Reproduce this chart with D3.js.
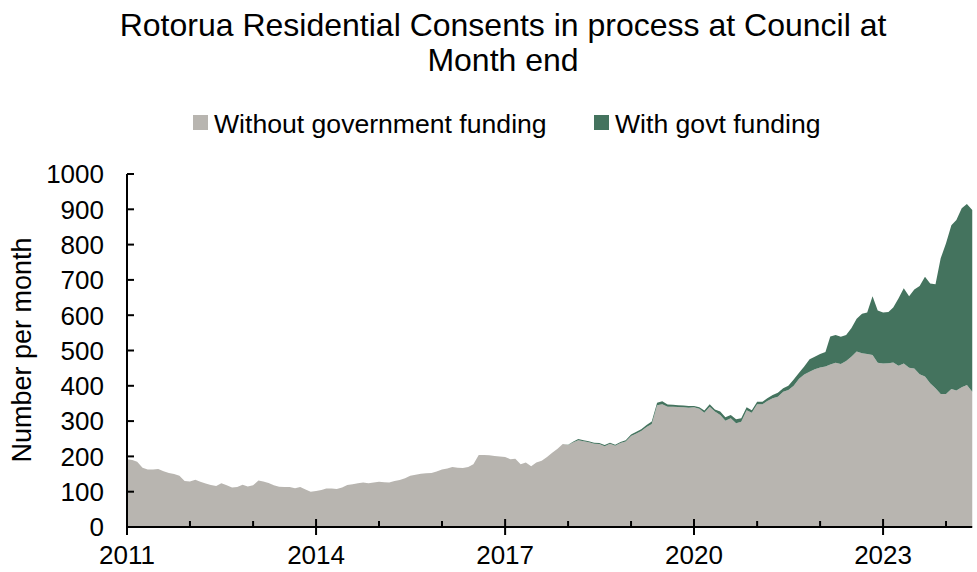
<!DOCTYPE html>
<html>
<head>
<meta charset="utf-8">
<script src="https://cdn.jsdelivr.net/npm/d3@7"></script>
<style>
  html, body { margin: 0; padding: 0; background: #ffffff; }
  svg { display: block; font-family: "Liberation Sans", Arial, sans-serif; }
</style>
</head>
<body>
<svg id="chart" width="977" height="572"></svg>
<script>
// Monthly consents in process, Jan 2011 – Jun 2024
const startMonth = new Date(2011, 0, 1);
const endMonth = new Date(2024, 5, 1);
const months = d3.timeMonth.range(startMonth, d3.timeMonth.offset(endMonth, 1));

const seriesNames = ["Without government funding", "With govt funding"];

const withoutFunding = [
  192,190,185,168,163,163,164,158,153,150,145,130,   // 2011
  129,134,128,123,119,116,124,118,112,113,120,115,   // 2012
  118,132,129,125,118,114,113,113,110,113,106,100,   // 2013
  102,105,109,109,108,112,119,121,124,126,124,126,   // 2014
  128,127,126,130,133,138,145,148,151,152,153,157,   // 2015
  163,166,170,168,167,170,178,204,204,203,201,200,   // 2016
  198,192,193,178,183,172,183,188,198,210,222,235,   // 2017
  232,240,246,243,240,236,235,229,236,230,238,242,   // 2018
  258,265,272,283,292,345,348,341,341,340,339,338,   // 2019
  339,335,324,341,327,317,301,308,294,298,331,324,   // 2020
  348,348,357,365,369,383,388,400,420,432,440,447,   // 2021
  452,455,460,465,462,470,482,497,492,490,487,465,   // 2022
  463,464,466,457,463,451,449,433,426,407,393,377,   // 2023
  377,391,387,396,402,383                            // 2024
];

const withFunding = [
  0,0,0,0,0,0,0,0,0,0,0,0,                           // 2011
  0,0,0,0,0,0,0,0,0,0,0,0,                           // 2012
  0,0,0,0,0,0,0,0,0,0,0,0,                           // 2013
  0,0,0,0,0,0,0,0,0,0,0,0,                           // 2014
  0,0,0,0,0,0,0,0,0,0,0,0,                           // 2015
  0,0,0,0,0,0,0,0,0,0,0,0,                           // 2016
  0,0,0,0,0,0,0,0,0,0,0,0,                           // 2017
  1,2,3,3,3,3,3,3,3,3,3,4,                           // 2018
  4,5,5,6,7,7,8,6,5,5,5,5,                           // 2019
  4,4,6,7,6,10,10,9,11,10,8,7,                       // 2020
  7,7,8,9,11,10,12,18,17,23,35,35,                   // 2021
  38,41,80,79,77,74,81,93,112,118,167,148,           // 2022
  145,145,156,191,213,203,224,250,283,283,295,384,   // 2023
  427,464,483,507,513,515                            // 2024
];

const xTickYears = [2011, 2014, 2017, 2020, 2023];
const yTicks = [0, 100, 200, 300, 400, 500, 600, 700, 800, 900, 1000];

const colors = { without: "#b8b5b0", with: "#44735e" };

const svg = d3.select("#chart");
const margin = { left: 127, right: 4.75, top: 174, bottom: 45 };
const W = 977, H = 572;

const x = d3.scaleTime()
  .domain([startMonth, endMonth])
  .range([margin.left, W - margin.right]);
const y = d3.scaleLinear()
  .domain([0, 1000])
  .range([H - margin.bottom, margin.top]);

// stacked table built from the two series
const table = months.map((m, i) => ({ date: m, without: withoutFunding[i], with: withFunding[i] }));
const stack = d3.stack().keys(["without", "with"]);
const layers = stack(table);

const area = d3.area()
  .x(d => x(d.data.date))
  .y0(d => y(d[0]))
  .y1(d => y(d[1]));

svg.append("g").selectAll("path")
  .data(layers)
  .join("path")
  .attr("d", area)
  .attr("fill", d => colors[d.key]);

// title
const title = svg.append("text")
  .attr("text-anchor", "middle")
  .attr("font-size", 32)
  .attr("fill", "#000");
title.append("tspan").attr("x", 503).attr("y", 36)
  .text("Rotorua Residential Consents in process at Council at");
title.append("tspan").attr("x", 503).attr("y", 71).text("Month end");

// legend
const legendItems = [
  { label: seriesNames[0], color: colors.without, x: 193 },
  { label: seriesNames[1], color: colors.with, x: 594 }
];
const lg = svg.append("g").selectAll("g").data(legendItems).join("g")
  .attr("transform", d => `translate(${d.x},115)`);
lg.append("rect").attr("width", 15).attr("height", 15).attr("fill", d => d.color);
lg.append("text").attr("x", 21).attr("y", 17.5)
  .attr("font-size", 26.6).attr("fill", "#000").text(d => d.label);

// y axis
const yAxis = svg.append("g");
yAxis.append("line")
  .attr("x1", margin.left).attr("x2", margin.left)
  .attr("y1", y(1000)).attr("y2", y(0))
  .attr("stroke", "#000").attr("stroke-width", 2);
yAxis.selectAll("line.tick").data(yTicks).join("line")
  .attr("class", "tick")
  .attr("x1", margin.left).attr("x2", margin.left + 7)
  .attr("y1", d => y(d)).attr("y2", d => y(d))
  .attr("stroke", "#000").attr("stroke-width", 2);
yAxis.selectAll("text").data(yTicks).join("text")
  .attr("x", 104).attr("y", d => y(d)).attr("dy", "0.36em")
  .attr("text-anchor", "end").attr("font-size", 26).attr("fill", "#000")
  .text(d => d);

// x axis
const xAxis = svg.append("g");
xAxis.append("line")
  .attr("x1", margin.left - 1).attr("x2", W - margin.right)
  .attr("y1", y(0)).attr("y2", y(0))
  .attr("stroke", "#000").attr("stroke-width", 2);
const allYears = d3.range(2011, 2025);
xAxis.selectAll("line.minor").data(allYears.filter(v => !xTickYears.includes(v))).join("line")
  .attr("class", "minor")
  .attr("x1", d => x(new Date(d, 0, 1))).attr("x2", d => x(new Date(d, 0, 1)))
  .attr("y1", y(0) - 6).attr("y2", y(0))
  .attr("stroke", "#000").attr("stroke-width", 2);
xAxis.selectAll("line.major").data(xTickYears).join("line")
  .attr("class", "major")
  .attr("x1", d => x(new Date(d, 0, 1))).attr("x2", d => x(new Date(d, 0, 1)))
  .attr("y1", y(0) - 8).attr("y2", y(0) + 8)
  .attr("stroke", "#000").attr("stroke-width", 2);
xAxis.selectAll("text").data(xTickYears).join("text")
  .attr("x", d => x(new Date(d, 0, 1))).attr("y", 564)
  .attr("text-anchor", "middle").attr("font-size", 26).attr("fill", "#000")
  .text(d => d);

// y axis title
svg.append("text")
  .attr("transform", "translate(31,350) rotate(-90)")
  .attr("text-anchor", "middle").attr("font-size", 27).attr("fill", "#000")
  .text("Number per month");
</script>
</body>
</html>
